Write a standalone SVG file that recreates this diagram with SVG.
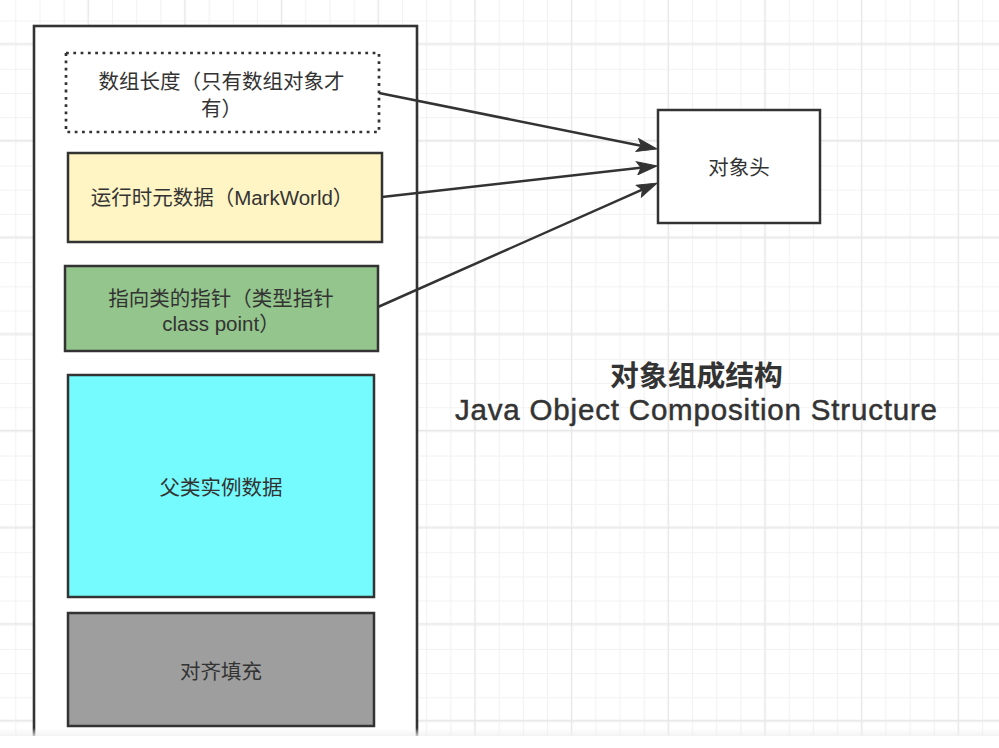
<svg xmlns="http://www.w3.org/2000/svg" width="999" height="748" viewBox="0 0 999 748">
  <style>
    .box { stroke: #333333; stroke-width: 2.5; }
    .lbl { font-family: "Liberation Sans", "Noto Sans CJK SC", sans-serif; font-size: 20.5px; fill: #333333; text-anchor: middle; }
    .conn { fill: none; stroke: #333333; stroke-width: 2.5; }
  </style>
  <defs>
    <pattern id="gridMinor" patternUnits="userSpaceOnUse" x="3.715" y="-15.285" width="24.17" height="24.17">
      <path d="M12.085 0 V24.17 M0 12.085 H24.17" stroke="#f2f2f2" stroke-width="1.2" fill="none"/>
    </pattern>
    <pattern id="gridMajor" patternUnits="userSpaceOnUse" x="39.86" y="-4.54" width="96.68" height="96.68">
      <path d="M48.34 0 V96.68 M0 48.34 H96.68" stroke="#e8e8e8" stroke-width="1.4" fill="none"/>
    </pattern>
    <marker id="arrow" markerUnits="userSpaceOnUse" viewBox="0 0 22 14" markerWidth="22" markerHeight="14" refX="11" refY="7" orient="auto">
      <path d="M1 0.5 L21 7 L1 13.5 L5 7 Z" fill="#333333" stroke="#333333" stroke-width="1" stroke-linejoin="miter"/>
    </marker>
    <linearGradient id="fade" x1="0" y1="0" x2="0" y2="1">
      <stop offset="0" stop-color="#f0f0f0" stop-opacity="0"/>
      <stop offset="1" stop-color="#f0f0f0" stop-opacity="0.8"/>
    </linearGradient>
  </defs>

  <rect x="0" y="0" width="999" height="748" fill="#ffffff"/>
  <rect x="0" y="0" width="999" height="736" fill="url(#gridMinor)"/>
  <rect x="0" y="0" width="999" height="736" fill="url(#gridMajor)"/>

  <g id="container">
    <rect x="34" y="26" width="383" height="740" fill="#ffffff" stroke="#333333" stroke-width="2.6"/>
  </g>

  <g id="array-length">
    <rect x="66" y="53" width="313" height="79" fill="#ffffff" stroke="#333333" stroke-width="2.7" stroke-dasharray="2.8 4.5"/>
    <text class="lbl" x="221.5" y="88.5">数组长度（只有数组对象才</text>
    <text class="lbl" x="221.5" y="116">有）</text>
  </g>

  <g id="mark-word">
    <rect class="box" x="68" y="153" width="314" height="89" fill="#fff4c3"/>
    <text class="lbl" x="222" y="204.5">运行时元数据（MarkWorld）</text>
  </g>

  <g id="class-pointer">
    <rect class="box" x="65" y="266" width="313" height="85" fill="#93c58c"/>
    <text class="lbl" x="221" y="306">指向类的指针（类型指针</text>
    <text class="lbl" x="221" y="331">class point）</text>
  </g>

  <g id="instance-data">
    <rect class="box" x="68" y="375" width="306" height="222" fill="#75fbfd"/>
    <text class="lbl" x="221" y="495">父类实例数据</text>
  </g>

  <g id="padding">
    <rect class="box" x="68" y="613" width="306" height="113" fill="#9e9e9e"/>
    <text class="lbl" x="221" y="679">对齐填充</text>
  </g>

  <g id="object-header">
    <rect class="box" x="658" y="110" width="162" height="113" fill="#ffffff"/>
    <text class="lbl" x="739" y="175">对象头</text>
  </g>

  <g id="connectors">
    <path class="conn" d="M379 93 L647.2 147" marker-end="url(#arrow)"/>
    <path class="conn" d="M382 197 L647.1 167.1" marker-end="url(#arrow)"/>
    <path class="conn" d="M378 307 L647.9 187.1" marker-end="url(#arrow)"/>
  </g>

  <g id="title">
    <text x="696.5" y="386" font-family="Liberation Sans, Noto Sans CJK SC, sans-serif" font-size="28.8" font-weight="bold" fill="#333333" text-anchor="middle">对象组成结构</text>
    <text x="696" y="420" font-family="Liberation Sans, Noto Sans CJK SC, sans-serif" font-size="29.5" fill="#333333" stroke="#333333" stroke-width="0.5" text-anchor="middle" textLength="482" lengthAdjust="spacing">Java Object Composition Structure</text>
  </g>

  <rect x="0" y="728" width="999" height="8" fill="url(#fade)"/>
  <rect x="0" y="736" width="999" height="12" fill="#ffffff"/>
</svg>
